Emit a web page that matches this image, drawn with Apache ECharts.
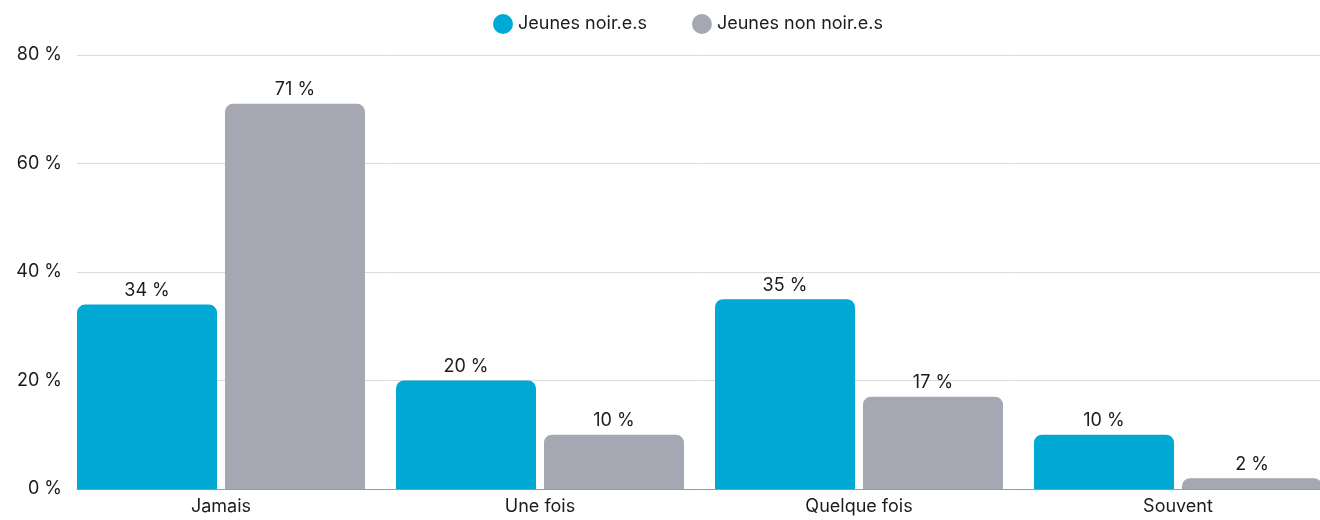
<!DOCTYPE html>
<html>
<head>
<meta charset="utf-8">
<script src="https://cdn.jsdelivr.net/npm/echarts@6/dist/echarts.min.js"></script>
<style>
  html, body { margin: 0; padding: 0; background: #fff; }
  #chart { width: 1320px; height: 520px; }
</style>
</head>
<body>
<div id="chart"></div>
<script>
// categories and series values (percent)
const categories = ['Jamais', 'Une fois', 'Quelque fois', 'Souvent'];
const noirs = [34, 20, 35, 10];
const nonNoirs = [71, 10, 17, 2];
const yTicks = { min: 0, max: 80, interval: 20 };

const textColor = '#1c1c1c';
const font = 'Inter, "Noto Sans", sans-serif';

const chart = echarts.init(document.getElementById('chart'));

const labelOpt = {
  show: true,
  position: 'top',
  distance: 5,
  color: textColor,
  fontFamily: font,
  fontSize: 18,
  formatter: p => p.value + ' %'
};

const option = {
  animation: false,
  textStyle: { fontFamily: font },
  legend: {
    top: 9,
    left: 488,
    icon: 'circle',
    itemWidth: 20,
    itemHeight: 20,
    itemGap: 45,
    textStyle: { color: textColor, fontSize: 18, fontFamily: font },
    data: ['Jeunes noir.e.s', 'Jeunes non noir.e.s']
  },
  grid: [
    // bars (wider than the canvas, last bar is cut at the right edge)
    { left: 61.5, width: 1276, top: 55, bottom: 31, outerBoundsMode: 'none', containLabel: false },
    // gridlines and y labels
    { left: 77, width: 1243, top: 55, bottom: 31, outerBoundsMode: 'none', containLabel: false }
  ],
  xAxis: [
    {
      type: 'category',
      gridIndex: 0,
      data: categories,
      axisLine: { show: false },
      axisTick: { show: false },
      axisLabel: { color: textColor, fontSize: 18, fontFamily: font, margin: 9 }
    },
    {
      type: 'value',
      gridIndex: 1,
      min: 0, max: 1,
      axisLine: { show: true, lineStyle: { color: '#9a9a9a', width: 1 } },
      axisTick: { show: false },
      axisLabel: { show: false },
      splitLine: { show: false }
    }
  ],
  yAxis: [
    {
      type: 'value',
      gridIndex: 0,
      min: yTicks.min, max: yTicks.max, interval: yTicks.interval,
      show: false,
      splitLine: { show: false }
    },
    {
      type: 'value',
      gridIndex: 1,
      min: yTicks.min, max: yTicks.max, interval: yTicks.interval,
      axisLine: { show: false },
      axisTick: { show: false },
      axisLabel: { color: textColor, fontSize: 18, fontFamily: font, margin: 15, formatter: '{value} %' },
      splitLine: { lineStyle: { color: '#dcdcdc', width: 1 } }
    }
  ],
  series: [
    {
      name: 'Jeunes noir.e.s',
      type: 'bar',
      xAxisIndex: 0, yAxisIndex: 0,
      data: noirs,
      barWidth: 140,
      barGap: '5.7%',
      itemStyle: { color: '#00a9d4', borderRadius: [8, 8, 0, 0] },
      label: labelOpt
    },
    {
      name: 'Jeunes non noir.e.s',
      type: 'bar',
      xAxisIndex: 0, yAxisIndex: 0,
      data: nonNoirs,
      barWidth: 140,
      barGap: '5.7%',
      itemStyle: { color: '#a5a8b3', borderRadius: [8, 8, 0, 0] },
      label: labelOpt
    }
  ]
};

chart.setOption(option);
</script>
</body>
</html>
